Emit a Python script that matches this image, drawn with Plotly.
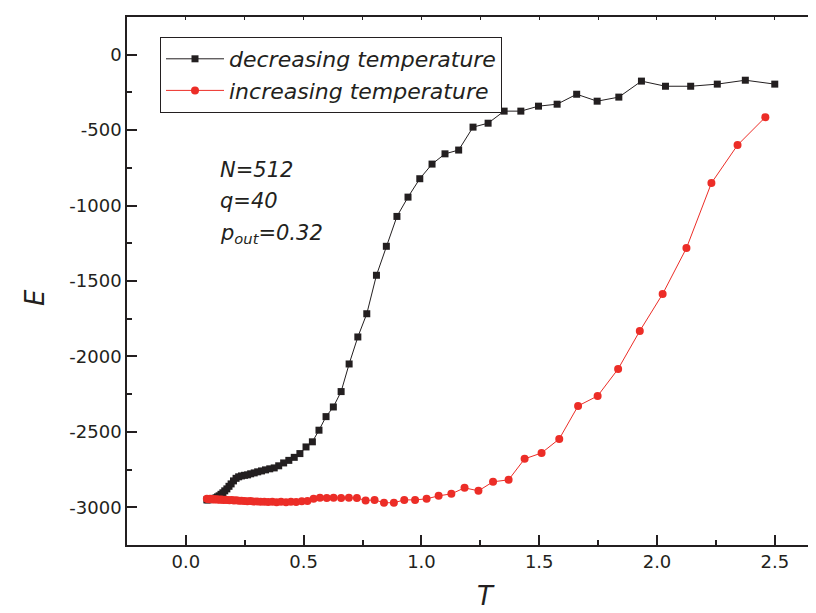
import plotly.graph_objects as go

# ---- data ----
T_dec = [2.500, 2.375, 2.256, 2.143, 2.036, 1.934, 1.838, 1.746, 1.659, 1.576,
         1.497, 1.422, 1.351, 1.283, 1.219, 1.158, 1.100, 1.045, 0.993, 0.943,
         0.896, 0.851, 0.809, 0.768, 0.730, 0.693, 0.659, 0.626, 0.595, 0.565,
         0.537, 0.510, 0.484, 0.460, 0.437, 0.415, 0.394, 0.375, 0.356, 0.338,
         0.321, 0.305, 0.290, 0.275, 0.262, 0.249, 0.236, 0.224, 0.213, 0.202,
         0.192, 0.183, 0.174, 0.165, 0.157, 0.149, 0.141, 0.134, 0.128, 0.121,
         0.115, 0.109, 0.104, 0.099, 0.094, 0.089]
E_dec = [-195, -169, -195, -209, -209, -175, -281, -308, -262, -328,
         -341, -374, -374, -454, -480, -632, -657, -725, -822, -944,
         -1072, -1270, -1462, -1717, -1871, -2050, -2233, -2335, -2399, -2489,
         -2566, -2600, -2644, -2669, -2689, -2706, -2725, -2739, -2745, -2752,
         -2759, -2765, -2772, -2778, -2785, -2788, -2792, -2798, -2808, -2825,
         -2845, -2861, -2878, -2891, -2904, -2914, -2924, -2931, -2937, -2941,
         -2944, -2944, -2947, -2947, -2951, -2951]

T_inc = [0.089, 0.094, 0.098, 0.103, 0.108, 0.114, 0.119, 0.125, 0.132, 0.138,
         0.145, 0.152, 0.160, 0.168, 0.176, 0.185, 0.195, 0.204, 0.214, 0.225,
         0.236, 0.248, 0.261, 0.274, 0.287, 0.302, 0.317, 0.333, 0.349, 0.367,
         0.385, 0.404, 0.425, 0.446, 0.468, 0.492, 0.516, 0.542, 0.569, 0.598,
         0.627, 0.659, 0.692, 0.726, 0.763, 0.801, 0.841, 0.883, 0.927, 0.973,
         1.022, 1.073, 1.127, 1.183, 1.242, 1.304, 1.370, 1.438, 1.510, 1.585,
         1.665, 1.748, 1.835, 1.927, 2.024, 2.125, 2.231, 2.342, 2.460]
E_inc = [-2944, -2945, -2946, -2944, -2947, -2946, -2948, -2947, -2949, -2948,
         -2950, -2949, -2951, -2950, -2952, -2953, -2952, -2955, -2954, -2957,
         -2956, -2958, -2960, -2959, -2962, -2961, -2964, -2963, -2965, -2964,
         -2966, -2964, -2966, -2963, -2965, -2960, -2958, -2944, -2937, -2938,
         -2937, -2939, -2937, -2938, -2955, -2951, -2970, -2970, -2951, -2951,
         -2944, -2924, -2911, -2871, -2891, -2831, -2818, -2679, -2640, -2547,
         -2328, -2262, -2083, -1831, -1586, -1282, -851, -599, -414]

x_tickvals = [0.0, 0.5, 1.0, 1.5, 2.0, 2.5]
x_ticktext = ["0.0", "0.5", "1.0", "1.5", "2.0", "2.5"]
y_tickvals = [0, -500, -1000, -1500, -2000, -2500, -3000]
y_ticktext = ["0", "-500", "-1000", "-1500", "-2000", "-2500", "-3000"]

INK = "#231f20"
RED = "#ec2d27"
FONT = "DejaVu Sans"

fig = go.Figure()
fig.add_trace(go.Scatter(
    x=T_dec, y=E_dec, mode="lines+markers", name="decreasing temperature",
    line=dict(color=INK, width=1),
    marker=dict(symbol="square", size=7, color=INK)))
fig.add_trace(go.Scatter(
    x=T_inc, y=E_inc, mode="lines+markers", name="increasing temperature",
    line=dict(color=RED, width=1),
    marker=dict(symbol="circle", size=8, color=RED)))

XR = [-0.25, 2.709]
YR = [-3250, 250]

fig.update_layout(
    width=816, height=613,
    margin=dict(l=119, r=0, t=9, b=76),
    paper_bgcolor="white", plot_bgcolor="white",
    font=dict(family=FONT, color=INK, size=18),
    xaxis=dict(range=XR, showgrid=False, zeroline=False,
               showline=True, linecolor=INK, linewidth=1.6,
               tickmode="array", tickvals=x_tickvals, ticktext=x_ticktext,
               ticks="inside", ticklen=10, tickwidth=1.6, tickcolor=INK,
               tickfont=dict(family=FONT, size=18, color=INK),
               minor=dict(tickmode="linear", tick0=0, dtick=0.25, ticks="inside",
                          ticklen=5, tickwidth=1.6, tickcolor=INK, showgrid=False)),
    xaxis2=dict(range=XR, overlaying="x", side="top", anchor="y",
                showgrid=False, zeroline=False, showline=True,
                linecolor=INK, linewidth=1.6, showticklabels=False,
                tickmode="linear", tick0=0, dtick=0.25,
                ticks="inside", ticklen=3, tickwidth=1.2, tickcolor=INK),
    yaxis=dict(range=YR, showgrid=False, zeroline=False,
               showline=True, linecolor=INK, linewidth=1.6,
               tickmode="array", tickvals=y_tickvals, ticktext=y_ticktext,
               ticks="inside", ticklen=10, tickwidth=1.6, tickcolor=INK,
               tickfont=dict(family=FONT, size=18, color=INK),
               minor=dict(tickmode="linear", tick0=0, dtick=250, ticks="inside",
                          ticklen=5, tickwidth=1.6, tickcolor=INK, showgrid=False)),
    legend=dict(x=(152 - 119) / 697, y=(537 - 29) / 528,
                xanchor="left", yanchor="top",
                bgcolor="white", bordercolor=INK, borderwidth=1,
                font=dict(family=FONT, size=22, color=INK, style="italic"),
                itemwidth=58, tracegroupgap=0),
    showlegend=True,
)

# empty trace so the top axis is drawn
fig.add_trace(go.Scatter(x=[None], y=[None], xaxis="x2", yaxis="y",
                         showlegend=False, hoverinfo="skip"))

def px_x(px):
    return (px - 119) / 697

def px_y(py):
    return (537 - py) / 528

ann_font = dict(family=FONT, size=21, color=INK, style="italic")
fig.add_annotation(x=px_x(210), y=px_y(162), xref="paper", yref="paper",
                   text="N=512", showarrow=False, xanchor="left", yanchor="middle",
                   font=ann_font)
fig.add_annotation(x=px_x(210), y=px_y(193), xref="paper", yref="paper",
                   text="q=40", showarrow=False, xanchor="left", yanchor="middle",
                   font=ann_font)
fig.add_annotation(x=px_x(210), y=px_y(226), xref="paper", yref="paper",
                   text="p<sub>out</sub>=0.32", showarrow=False, xanchor="left",
                   yanchor="middle", font=ann_font)

fig.add_annotation(x=px_x(27), y=px_y(290), xref="paper", yref="paper",
                   text="E", showarrow=False, textangle=-90,
                   xanchor="center", yanchor="middle",
                   font=dict(family=FONT, size=26, color=INK, style="italic"))
fig.add_annotation(x=px_x(478), y=px_y(588), xref="paper", yref="paper",
                   text="T", showarrow=False,
                   xanchor="center", yanchor="middle",
                   font=dict(family=FONT, size=26, color=INK, style="italic"))

fig.write_html("out.html")
